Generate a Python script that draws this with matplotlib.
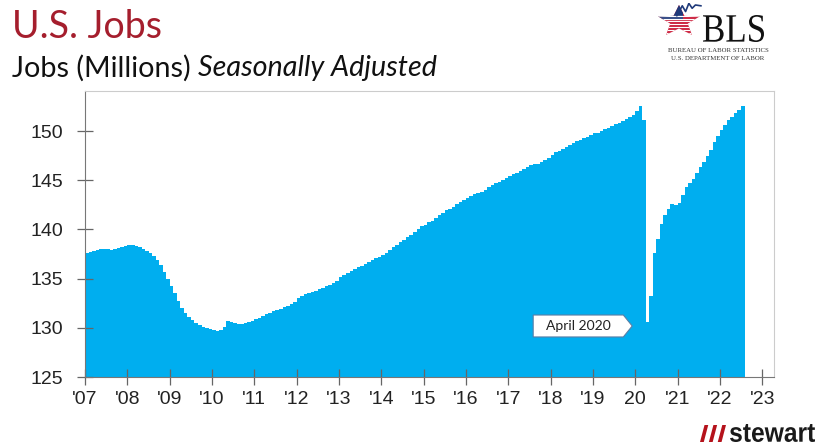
import numpy as np
import matplotlib
matplotlib.use("Agg")
import matplotlib.pyplot as plt
from matplotlib.patches import Polygon, PathPatch
from matplotlib.textpath import TextPath
from matplotlib.font_manager import FontProperties
from matplotlib.transforms import Affine2D, IdentityTransform

# monthly nonfarm payrolls (millions), Jan 2007 - Jul 2022
jobs_2007 = [137.6, 137.7, 137.8, 137.9, 138.0, 138.0, 138.0, 137.95, 138.0, 138.1, 138.25, 138.35]
jobs_2008 = [138.45, 138.45, 138.35, 138.2, 138.0, 137.8, 137.6, 137.3, 136.9, 136.4, 135.7, 135.0]
jobs_2009 = [134.3, 133.5, 132.7, 132.0, 131.5, 131.1, 130.8, 130.5, 130.3, 130.1, 130.0, 129.9]
jobs_2010 = [129.8, 129.7, 129.8, 130.1, 130.7, 130.6, 130.5, 130.4, 130.4, 130.5, 130.6, 130.7]
jobs_2011 = [130.9, 131.0, 131.2, 131.4, 131.5, 131.7, 131.8, 131.9, 132.1, 132.2, 132.4, 132.6]
jobs_2012 = [133.0, 133.2, 133.4, 133.5, 133.6, 133.7, 133.9, 134.0, 134.2, 134.4, 134.6, 134.8]
jobs_2013 = [135.2, 135.4, 135.6, 135.8, 136.0, 136.2, 136.3, 136.5, 136.7, 136.9, 137.1, 137.2]
jobs_2014 = [137.4, 137.6, 137.9, 138.2, 138.4, 138.7, 138.9, 139.2, 139.4, 139.7, 140.0, 140.3]
jobs_2015 = [140.5, 140.8, 140.9, 141.2, 141.5, 141.7, 142.0, 142.1, 142.3, 142.6, 142.8, 143.0]
jobs_2016 = [143.2, 143.4, 143.6, 143.7, 143.8, 144.0, 144.3, 144.5, 144.7, 144.8, 145.0, 145.2]
jobs_2017 = [145.4, 145.6, 145.7, 145.9, 146.1, 146.3, 146.5, 146.6, 146.7, 146.9, 147.1, 147.3]
jobs_2018 = [147.6, 147.9, 148.0, 148.2, 148.4, 148.6, 148.8, 149.0, 149.1, 149.3, 149.4, 149.6]
jobs_2019 = [149.8, 149.8, 150.0, 150.2, 150.3, 150.5, 150.7, 150.8, 151.0, 151.2, 151.4, 151.6]
jobs_2020 = [152.0, 152.5, 151.1, 130.6, 133.2, 137.6, 139.0, 140.6, 141.5, 142.1, 142.6, 142.5]
jobs_2021 = [142.7, 143.5, 144.3, 144.7, 145.1, 145.7, 146.3, 146.9, 147.5, 148.1, 148.9, 149.5]
jobs_2022 = [150.1, 150.6, 151.1, 151.45, 151.8, 152.1, 152.5]

start_year = 2007
tick_years = list(range(2007, 2024))
tick_labels = ["'07", "'08", "'09", "'10", "'11", "'12", "'13", "'14", "'15",
               "'16", "'17", "'18", "'19", "20", "'21", "'22", "'23"]
y_ticks = [125, 130, 135, 140, 145, 150]

jobs = (jobs_2007 + jobs_2008 + jobs_2009 + jobs_2010 + jobs_2011 + jobs_2012
        + jobs_2013 + jobs_2014 + jobs_2015 + jobs_2016 + jobs_2017 + jobs_2018
        + jobs_2019 + jobs_2020 + jobs_2021 + jobs_2022)
months = start_year + np.arange(len(jobs)) / 12.0

W, H = 826, 448
fig = plt.figure(figsize=(W / 100, H / 100), dpi=100)
fig.patch.set_facecolor("white")


def boxed_text(s, x0, x1, ytop, ybot, family, color, weight="normal"):
    # text squeezed into a pixel box (x from left, y from top of the image)
    tp = TextPath((0, 0), s, size=50, prop=FontProperties(family=family, weight=weight))
    ext = tp.get_extents()
    sx = (x1 - x0) / ext.width
    sy = (ybot - ytop) / ext.height
    tr = (Affine2D().translate(-ext.x0, -ext.y0).scale(sx, sy)
          .translate(x0, H - ybot))
    fig.patches.append(PathPatch(tr.transform_path(tp), facecolor=color,
                                 edgecolor="none", transform=IdentityTransform(),
                                 figure=fig))


# main axes
ax = fig.add_axes([85 / W, 1 - 377 / H, 689 / W, 286 / H])
base = 125
ax.bar(months, np.array(jobs) - base, bottom=base, width=1 / 12 * 1.04,
       align="edge", color="#00AEEF", linewidth=0)

ax.set_xlim(2007, 2023.28)
ax.set_ylim(125, 154.07)
ax.set_xticks(tick_years)
ax.set_xticklabels(tick_labels)
ax.set_yticks(y_ticks)
ax.tick_params(direction="inout", length=12, width=0.9, color="#666666",
               labelsize=14, labelcolor="#222222")
ax.tick_params(axis="y", pad=10)
ax.tick_params(axis="x", pad=4)
for lab in ax.get_xticklabels() + ax.get_yticklabels():
    lab.set_family(["Liberation Sans", "DejaVu Sans"])
for side in ["left", "bottom"]:
    ax.spines[side].set_color("#777777")
for side in ["top", "right"]:
    ax.spines[side].set_color("#cccccc")

# April 2020 callout
cx0, cx1, tip = 2017.59, 2019.72, 2019.93
cy0, cy1 = 129.07, 131.3
callout = Polygon([[cx0, cy0], [cx1, cy0], [tip, (cy0 + cy1) / 2], [cx1, cy1], [cx0, cy1]],
                  closed=True, facecolor="white", edgecolor="#5a7fa6", linewidth=0.8, zorder=5)
ax.add_patch(callout)
ax.text((cx0 + cx1) / 2, (cy0 + cy1) / 2, "April 2020", ha="center", va="center",
        fontsize=10, family="Lato", color="#222222", zorder=6)

# titles
fig.text(12 / W, 1 - 27 / H, "U.S. Jobs", fontsize=27, family="Lato",
         color="#A51E2D", va="center", ha="left")
sub = fig.text(12 / W, 1 - 68 / H, "Jobs (Millions) ", fontsize=20.7, family="Lato",
               color="#111111", va="center", ha="left")
fig.canvas.draw()
bb = sub.get_window_extent()
fig.text(bb.x1 / W, 1 - 68 / H, "Seasonally Adjusted", fontsize=20.7, family="Lato",
         style="italic", color="#111111", va="center", ha="left")

# BLS logo
lax = fig.add_axes([656 / W, 1 - 35 / H, 46 / W, 32 / H])
lax.set_xlim(-1.05, 1.05)
lax.set_ylim(-0.82, 1.12)
lax.axis("off")
ang = np.pi / 2 + np.arange(10) * np.pi / 5
rad = np.where(np.arange(10) % 2 == 0, 1.0, 0.42)
star = Polygon(np.column_stack([rad * np.cos(ang), rad * np.sin(ang)]),
               closed=True, facecolor="#C8102E", edgecolor="none")
lax.add_patch(star)
for yy in np.arange(-0.85, 0.35, 0.17):
    ln, = lax.plot([-1.3, 1.3], [yy, yy], color="white", lw=0.9)
    ln.set_clip_path(star)
blue = Polygon([[-1.3, 0.1], [0.2, 0.1], [0.2, 1.3], [-1.3, 1.3]], closed=True,
               facecolor="#1F3A7A", edgecolor="none")
lax.add_patch(blue)
blue.set_clip_path(star)
lax.plot([-0.1, 0.15, 0.3, 0.45, 0.6, 0.75, 1.0], [0.35, 0.95, 0.6, 1.1, 0.8, 1.0, 0.95],
         color="#1F3A7A", lw=1.2)

boxed_text("BLS", 703, 764, 15, 42, "Liberation Serif", "#111111")
fig.text(718 / W, 1 - 51 / H, "BUREAU OF LABOR STATISTICS", fontsize=4.9,
         family="Liberation Serif", color="#333333", va="center", ha="center")
fig.text(718 / W, 1 - 59 / H, "U.S. DEPARTMENT OF LABOR", fontsize=4.9,
         family="Liberation Serif", color="#333333", va="center", ha="center")

# stewart logo
boxed_text("///", 700, 726, 425, 442, "Liberation Sans", "#B5121B", weight="bold")
boxed_text("stewart", 730, 815, 424, 442, "Liberation Sans", "#1a1a1a", weight="bold")

fig.savefig("out.png", dpi=100, facecolor="white")
